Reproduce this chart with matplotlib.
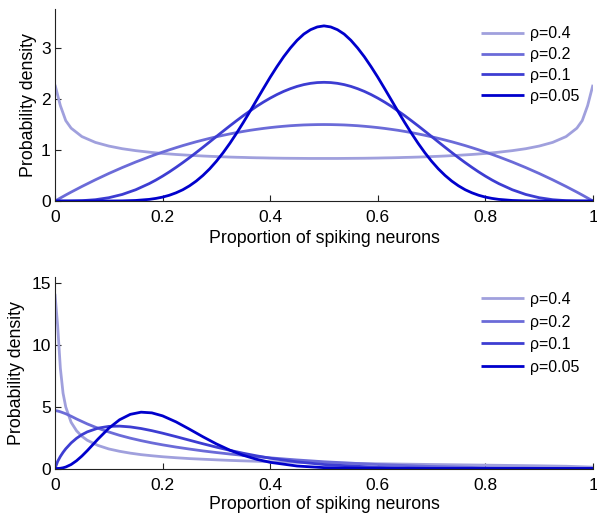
import numpy as np
import matplotlib
matplotlib.use('Agg')
import matplotlib.pyplot as plt

plt.rcParams['font.family'] = ['Liberation Sans', 'DejaVu Sans']

labels = ['ρ=0.4', 'ρ=0.2', 'ρ=0.1', 'ρ=0.05']
colors = ['#a0a0dd', '#6b6bd8', '#3d3dd2', '#0000cc']

# top panel, mean proportion 0.5
x_top = [0, 0.01, 0.02, 0.03, 0.05, 0.075, 0.1, 0.125, 0.15, 0.175, 0.1875, 0.2, 0.2125,
         0.225, 0.2375, 0.25, 0.2625, 0.275, 0.2875, 0.3, 0.3125, 0.325, 0.3375, 0.35,
         0.3625, 0.375, 0.3875, 0.4, 0.4125, 0.425, 0.4375, 0.45, 0.4625, 0.475, 0.4875,
         0.5, 0.5125, 0.525, 0.5375, 0.55, 0.5625, 0.575, 0.5875, 0.6, 0.6125, 0.625,
         0.6375, 0.65, 0.6625, 0.675, 0.6875, 0.7, 0.7125, 0.725, 0.7375, 0.75, 0.7625,
         0.775, 0.7875, 0.8, 0.8125, 0.825, 0.85, 0.875, 0.9, 0.925, 0.95, 0.97, 0.98,
         0.99, 1]

top_r04 = [2.28, 1.871, 1.577, 1.429, 1.264, 1.150, 1.078, 1.026, 0.988, 0.958, 0.945,
           0.933, 0.923, 0.913, 0.905, 0.897, 0.890, 0.883, 0.877, 0.872, 0.867, 0.862,
           0.858, 0.855, 0.851, 0.848, 0.846, 0.843, 0.841, 0.839, 0.838, 0.837, 0.836,
           0.835, 0.835, 0.835,
           0.835, 0.835, 0.836, 0.837, 0.838, 0.839, 0.841, 0.843, 0.846, 0.848, 0.851,
           0.855, 0.858, 0.862, 0.867, 0.872, 0.877, 0.883, 0.890, 0.897, 0.905, 0.913,
           0.923, 0.933, 0.945, 0.958, 0.988, 1.026, 1.078, 1.150, 1.264, 1.429, 1.577,
           1.871, 2.28]
top_r02 = [0, 0.059, 0.118, 0.175, 0.285, 0.416, 0.54, 0.656, 0.765, 0.866, 0.914, 0.96,
           1.004, 1.046, 1.087, 1.125, 1.162, 1.196, 1.229, 1.26, 1.289, 1.316, 1.342,
           1.365, 1.387, 1.406, 1.424, 1.44, 1.454, 1.466, 1.477, 1.485, 1.492, 1.496,
           1.499, 1.5,
           1.499, 1.496, 1.492, 1.485, 1.477, 1.466, 1.454, 1.44, 1.424, 1.406, 1.387,
           1.365, 1.342, 1.316, 1.289, 1.26, 1.229, 1.196, 1.162, 1.125, 1.087, 1.046,
           1.004, 0.96, 0.914, 0.866, 0.765, 0.656, 0.54, 0.416, 0.285, 0.175, 0.118,
           0.059, 0]
top_r01 = [0, 0, 0.0003, 0.0013, 0.007, 0.026, 0.065, 0.129, 0.221, 0.341, 0.411, 0.488,
           0.571, 0.660, 0.753, 0.850, 0.951, 1.054, 1.159, 1.265, 1.370, 1.474, 1.575,
           1.674, 1.767, 1.858, 1.941, 2.018, 2.088, 2.150, 2.203, 2.248, 2.283, 2.308,
           2.323, 2.328,
           2.323, 2.308, 2.283, 2.248, 2.203, 2.150, 2.088, 2.018, 1.941, 1.858, 1.767,
           1.674, 1.575, 1.474, 1.370, 1.265, 1.159, 1.054, 0.951, 0.850, 0.753, 0.660,
           0.571, 0.488, 0.411, 0.341, 0.221, 0.129, 0.065, 0.026, 0.007, 0.0013, 0.0003,
           0, 0]
top_r005 = [0, 0, 0, 0, 0, 0.0001, 0.0006, 0.003, 0.011, 0.032, 0.051, 0.077, 0.113,
            0.161, 0.221, 0.298, 0.391, 0.502, 0.631, 0.780, 0.947, 1.131, 1.330, 1.540,
            1.759, 1.984, 2.208, 2.428, 2.635, 2.829, 3.001, 3.152, 3.274, 3.360, 3.414,
            3.435,
            3.414, 3.360, 3.274, 3.152, 3.001, 2.829, 2.635, 2.428, 2.208, 1.984, 1.759,
            1.540, 1.330, 1.131, 0.947, 0.780, 0.631, 0.502, 0.391, 0.298, 0.221, 0.161,
            0.113, 0.077, 0.051, 0.032, 0.011, 0.003, 0.0006, 0.0001, 0, 0, 0, 0, 0]

# bottom panel, mean proportion ~0.2
x_bot = [0, 0.005, 0.01, 0.015, 0.02, 0.03, 0.04, 0.05, 0.06, 0.08, 0.1, 0.12, 0.14,
         0.16, 0.18, 0.2, 0.225, 0.25, 0.275, 0.3, 0.325, 0.35, 0.375, 0.4, 0.45, 0.5,
         0.6, 0.7, 0.8, 0.9, 0.95, 1.0]

bot_r04 = [14.1, 11.5, 8.09, 6.08, 4.97, 3.73, 3.05, 2.60, 2.28, 1.86, 1.58, 1.39, 1.24,
           1.12, 1.03, 0.95, 0.87, 0.80, 0.75, 0.70, 0.655, 0.617, 0.584, 0.553, 0.501,
           0.456, 0.384, 0.325, 0.273, 0.219, 0.184, 0.11]
bot_r02 = [4.68, 4.64, 4.58, 4.50, 4.42, 4.22, 4.0, 3.80, 3.60, 3.25, 2.95, 2.68, 2.45,
           2.25, 2.07, 1.91, 1.73, 1.57, 1.42, 1.29, 1.17, 1.06, 0.96, 0.86, 0.69,
           0.545, 0.32, 0.165, 0.065, 0.014, 0.003, 0]
bot_r01 = [0, 0.577, 0.973, 1.304, 1.591, 2.064, 2.437, 2.730, 2.958, 3.259, 3.400, 3.422,
           3.357, 3.228, 3.055, 2.852, 2.574, 2.285, 1.998, 1.724, 1.467, 1.232, 1.021,
           0.834, 0.535, 0.322, 0.093, 0.018, 0.002, 0, 0, 0]
bot_r005 = [0, 0.003, 0.020, 0.058, 0.120, 0.323, 0.625, 1.005, 1.441, 2.377, 3.249, 3.934,
            4.372, 4.548, 4.492, 4.250, 3.764, 3.174, 2.561, 1.986, 1.483, 1.067, 0.742,
            0.498, 0.201, 0.070, 0.005, 0, 0, 0, 0, 0]

xticks = [0, 0.2, 0.4, 0.6, 0.8, 1]
xticklabels = ['0', '0.2', '0.4', '0.6', '0.8', '1']

fig = plt.figure(figsize=(5.97, 5.14), dpi=100)
ax1 = fig.add_axes([0.0921, 0.6089, 0.9012, 0.3735])
ax2 = fig.add_axes([0.0921, 0.0885, 0.9012, 0.3726])

panels = [
    (ax1, x_top, [top_r04, top_r02, top_r01, top_r005], 3.765, [0, 1, 2, 3], -0.0335, -0.153, 0.9485, 0.36),
    (ax2, x_bot, [bot_r04, bot_r02, bot_r01, bot_r005], 15.46, [0, 5, 10, 15], -0.0555, -0.146, 0.4318, 0.47),
]

for ax, xs, series, ytop, yticks, ylab_x, xlab_y, leg_y, leg_sp in panels:
    for ys, c, lab in zip(series, colors, labels):
        ax.plot(xs, ys, color=c, lw=2.0, label=lab, solid_capstyle='butt')
    ax.set_xlim(0, 1)
    ax.set_ylim(0, ytop)
    ax.set_xticks(xticks)
    ax.set_xticklabels(xticklabels)
    ax.set_yticks(yticks)
    ax.spines['top'].set_visible(False)
    ax.spines['right'].set_visible(False)
    for s in ['left', 'bottom']:
        ax.spines[s].set_linewidth(0.8)
        ax.spines[s].set_color('#222222')
    ax.tick_params(direction='in', length=4, width=0.8, color='#222222', labelsize=12.5)
    ax.tick_params(axis='x', pad=6.5)
    ax.tick_params(axis='y', pad=3)
    ax.set_xlabel('Proportion of spiking neurons', fontsize=12.8, va='top')
    ax.set_ylabel('Probability density', fontsize=12.8)
    ax.xaxis.set_label_coords(0.5, xlab_y)
    ax.yaxis.set_label_coords(ylab_x, 0.5)
    ax.legend(loc='upper left', bbox_to_anchor=(0.805, leg_y), bbox_transform=fig.transFigure,
              frameon=False, fontsize=11.5, handlelength=2.7, handletextpad=0.4,
              borderpad=0, borderaxespad=0, labelspacing=leg_sp)

fig.savefig('out.png', dpi=100)
